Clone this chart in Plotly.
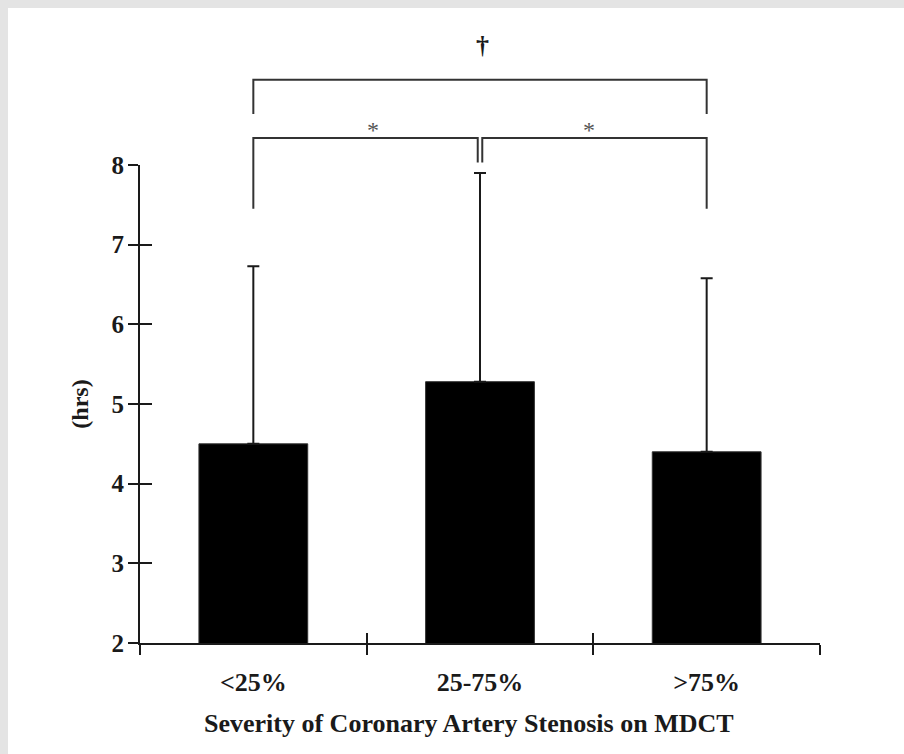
import plotly.graph_objects as go

categories = ["<25%", "25-75%", ">75%"]
means = [4.5, 5.28, 4.4]
sd_upper = [2.23, 2.62, 2.18]
y_ticks = [2, 3, 4, 5, 6, 7, 8]
x_title = "Severity of Coronary Artery Stenosis on MDCT"

# significance brackets: (x_left, x_right, bar height, left leg end, right leg end)
brackets_low = [(0, 0.99, 8.34, 7.45, 8.03), (1.01, 2, 8.34, 8.03, 7.45)]
bracket_top = (0, 2, 9.07, 8.64, 8.64)
star_pos = [(0.53, 8.63), (1.48, 8.63)]
dagger_pos = (1.01, 9.71)

Y0, Y1 = 2, 8
X0, X1 = -0.5, 2.5
FONT = "Liberation Serif"
INK = "#1a1a1a"


def py(v):
    return (v - Y0) / (Y1 - Y0)


fig = go.Figure()
fig.add_trace(go.Bar(
    x=[0, 1, 2], y=means, width=0.48,
    marker=dict(color="black", line=dict(color="#333", width=1)),
    error_y=dict(type="data", symmetric=False, array=sd_upper,
                 arrayminus=[0, 0, 0], thickness=2, width=6, color=INK),
))
# invisible trace so the overlay axes (inside tick marks) are drawn
fig.add_trace(go.Scatter(x=[X0], y=[Y0], xaxis="x2", yaxis="y2",
                         mode="markers", marker=dict(opacity=0), hoverinfo="skip",
                         showlegend=False))

shapes = []
# white panel over the gray frame
shapes.append(dict(type="rect", xref="paper", yref="paper",
                   x0=(8 - 140) / 680, x1=2.0, y0=-1.0, y1=(643 - 8) / 478,
                   fillcolor="white", line=dict(width=0), layer="below"))


def bracket(b):
    xl, xr, h, ll, rl = b
    return dict(type="path", xref="x", yref="paper",
                path=f"M {xl},{py(ll)} L {xl},{py(h)} L {xr},{py(h)} L {xr},{py(rl)}",
                line=dict(color="#333", width=2))


for b in brackets_low:
    shapes.append(bracket(b))
shapes.append(bracket(bracket_top))

annotations = []
for (sx, sy) in star_pos:
    annotations.append(dict(x=sx, y=py(sy), xref="x", yref="paper", text="*",
                            showarrow=False,
                            font=dict(family=FONT, size=24, color="#555")))
annotations.append(dict(x=dagger_pos[0], y=py(dagger_pos[1]), xref="x", yref="paper",
                        text="†", showarrow=False,
                        font=dict(family=FONT, size=26, color=INK, weight="bold")))
# x-axis title
annotations.append(dict(x=0.484, y=-80 / 478, xref="paper", yref="paper",
                        text=x_title, showarrow=False, yanchor="middle",
                        font=dict(family=FONT, size=26, color=INK, weight="bold")))

fig.update_layout(
    width=904, height=754,
    margin=dict(l=140, r=84, t=165, b=111),
    paper_bgcolor="#e4e4e4",
    plot_bgcolor="white",
    showlegend=False,
    shapes=shapes,
    annotations=annotations,
    xaxis=dict(range=[X0, X1], tickvals=[0, 1, 2], ticktext=categories,
               ticks="", showline=True, linecolor=INK, linewidth=2,
               showgrid=False, zeroline=False, ticklabelstandoff=15,
               tickfont=dict(family=FONT, size=26, color=INK, weight="bold"),
               minor=dict(tickvals=[-0.5, 0.5, 1.5, 2.5], ticks="outside",
                          ticklen=10, tickwidth=2, tickcolor=INK, showgrid=False)),
    yaxis=dict(range=[Y0, Y1], tickvals=y_ticks, ticks="outside", ticklen=10,
               tickwidth=2, tickcolor=INK, showline=True, linecolor=INK, linewidth=2,
               showgrid=False, zeroline=False, ticklabelstandoff=-1,
               tickfont=dict(family=FONT, size=25, color=INK, weight="bold"),
               title=dict(text="(hrs)",
                          font=dict(family=FONT, size=24, color=INK, weight="bold"),
                          standoff=16)),
    xaxis2=dict(range=[X0, X1], overlaying="x", anchor="y2", side="bottom",
                tickvals=[-0.5, 0.5, 1.5, 2.5], ticks="inside", ticklen=10,
                tickwidth=2, tickcolor=INK, showticklabels=False, showline=False,
                showgrid=False, zeroline=False),
    yaxis2=dict(range=[Y0, Y1], overlaying="y", anchor="x2", side="left",
                tickvals=y_ticks, ticks="inside", ticklen=12, tickwidth=2,
                tickcolor=INK, showticklabels=False, showline=False,
                showgrid=False, zeroline=False),
)
fig.write_html(
    "out.html",
    config={"displayModeBar": False},
    post_script="document.body.style.margin='0';document.body.style.background='#e4e4e4';",
)
